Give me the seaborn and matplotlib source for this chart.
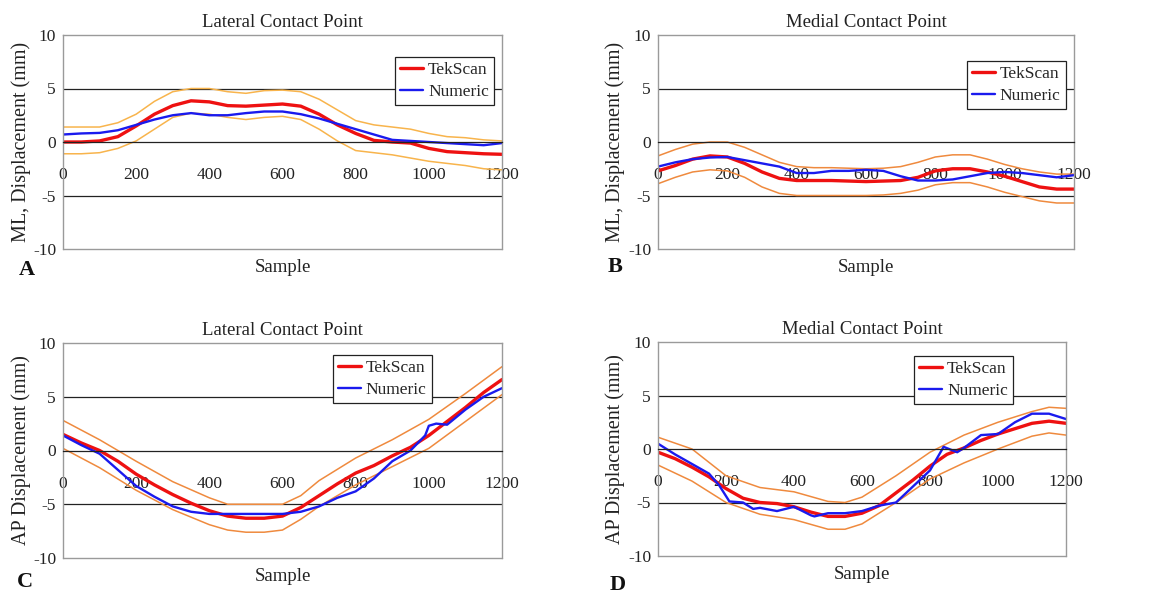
import numpy as np
import pandas as pd
import matplotlib
matplotlib.use("Agg")
import matplotlib.pyplot as plt
import seaborn as sns

# ---------------- data ----------------
S50 = [0, 50, 100, 150, 200, 250, 300, 350, 400, 450, 500, 550, 600,
       650, 700, 750, 800, 850, 900, 950, 1000, 1050, 1100, 1150, 1200]

# Panel A : ML lateral
A_tek = [0.0, 0.0, 0.1, 0.5, 1.5, 2.6, 3.4, 3.85, 3.75, 3.4, 3.35, 3.45, 3.55,
         3.35, 2.6, 1.6, 0.8, 0.15, 0.0, -0.1, -0.6, -0.9, -1.0, -1.1, -1.15]
A_num = [0.7, 0.8, 0.85, 1.1, 1.6, 2.1, 2.5, 2.7, 2.5, 2.5, 2.7, 2.85, 2.85,
         2.6, 2.2, 1.7, 1.2, 0.7, 0.2, 0.1, 0.0, -0.1, -0.2, -0.3, -0.1]
A_up = [1.4, 1.4, 1.4, 1.8, 2.6, 3.8, 4.7, 5.0, 5.0, 4.7, 4.55, 4.8, 4.85,
        4.7, 4.0, 3.0, 2.0, 1.6, 1.4, 1.2, 0.8, 0.5, 0.4, 0.2, 0.1]
A_lo = [-1.1, -1.1, -1.0, -0.6, 0.1, 1.2, 2.3, 2.7, 2.6, 2.3, 2.1, 2.3, 2.4,
        2.1, 1.2, 0.1, -0.8, -1.0, -1.2, -1.5, -1.8, -2.0, -2.2, -2.5, -2.6]

# Panel B : ML medial
B_tek = [-2.7, -2.2, -1.6, -1.3, -1.4, -2.0, -2.8, -3.4, -3.6, -3.6, -3.6, -3.65, -3.7,
         -3.65, -3.6, -3.3, -2.7, -2.5, -2.5, -2.8, -3.2, -3.7, -4.2, -4.4, -4.4]
B_num = [-2.3, -1.9, -1.6, -1.45, -1.4, -1.7, -2.0, -2.3, -2.9, -2.9, -2.7, -2.7, -2.6,
         -2.7, -3.2, -3.6, -3.6, -3.5, -3.2, -2.9, -2.8, -2.9, -3.1, -3.3, -3.1]
B_up = [-1.3, -0.7, -0.2, 0.0, 0.0, -0.5, -1.2, -1.9, -2.3, -2.4, -2.4, -2.45, -2.5,
        -2.45, -2.3, -1.9, -1.4, -1.2, -1.2, -1.6, -2.1, -2.5, -2.8, -3.0, -3.0]
B_lo = [-3.9, -3.3, -2.8, -2.6, -2.7, -3.3, -4.2, -4.8, -5.0, -5.0, -5.0, -5.0, -5.0,
        -4.95, -4.8, -4.5, -4.0, -3.8, -3.8, -4.2, -4.7, -5.1, -5.5, -5.7, -5.7]

# Panel C : AP lateral
C_tek = [1.5, 0.7, 0.0, -1.0, -2.2, -3.2, -4.1, -4.9, -5.6, -6.1, -6.3, -6.3, -6.1,
         -5.3, -4.2, -3.1, -2.1, -1.4, -0.5, 0.3, 1.4, 2.7, 4.0, 5.4, 6.6]
C_num_x = [0, 50, 100, 150, 200, 250, 300, 350, 400, 500, 600, 650, 700, 750, 800,
           850, 900, 950, 990, 1000, 1020, 1050, 1100, 1150, 1200]
C_num = [1.4, 0.5, -0.3, -1.8, -3.3, -4.3, -5.2, -5.7, -5.9, -5.9, -5.9, -5.7, -5.2,
         -4.4, -3.8, -2.6, -1.0, 0.0, 1.4, 2.3, 2.5, 2.4, 3.8, 5.0, 5.8]
C_band_x = [0, 100, 200, 300, 400, 450, 500, 550, 600, 650, 700, 800, 900, 1000, 1100, 1200]
C_up = [2.8, 1.0, -1.0, -2.9, -4.4, -5.0, -5.0, -5.0, -5.0, -4.2, -2.8, -0.7, 1.0, 2.9, 5.3, 7.8]
C_lo = [0.2, -1.6, -3.7, -5.5, -6.9, -7.4, -7.6, -7.6, -7.4, -6.4, -5.2, -3.2, -1.5, 0.2, 2.7, 5.2]

# Panel D : AP medial
D_tek = [-0.3, -0.9, -1.7, -2.6, -3.7, -4.6, -5.0, -5.1, -5.4, -5.9, -6.3, -6.3, -6.0,
         -5.3, -4.1, -2.9, -1.6, -0.5, 0.1, 0.8, 1.4, 1.9, 2.4, 2.6, 2.4]
D_num_x = [0, 50, 100, 150, 180, 210, 250, 280, 300, 350, 400, 450, 460, 500, 550,
           600, 650, 700, 750, 800, 840, 880, 900, 950, 1000, 1050, 1100, 1150, 1200]
D_num = [0.5, -0.5, -1.4, -2.3, -3.4, -4.9, -5.0, -5.6, -5.5, -5.8, -5.4, -6.2, -6.3,
         -6.0, -6.0, -5.8, -5.3, -5.0, -3.5, -2.0, 0.2, -0.3, 0.1, 1.3, 1.4, 2.5, 3.3, 3.3, 2.8]
D_band_x = [0, 100, 200, 300, 400, 500, 550, 600, 700, 800, 900, 1000, 1100, 1150, 1200]
D_up = [1.1, 0.0, -2.5, -3.6, -4.0, -4.9, -5.0, -4.5, -2.5, -0.3, 1.3, 2.5, 3.5, 3.9, 3.8]
D_lo = [-1.5, -3.0, -5.0, -6.1, -6.6, -7.5, -7.5, -7.0, -5.0, -2.8, -1.3, 0.0, 1.2, 1.5, 1.3]

TITLES = ["Lateral Contact Point", "Medial Contact Point",
          "Lateral Contact Point", "Medial Contact Point"]
YLABELS = ["ML, Displacement (mm)", "ML, Displacement (mm)",
           "AP Displacement (mm)", "AP Displacement (mm)"]
LETTERS = ["A", "B", "C", "D"]
XTICKS = [0, 200, 400, 600, 800, 1000, 1200]
YTICKS = [-10, -5, 0, 5, 10]

panels = [
    dict(tek=(S50, A_tek), num=(S50, A_num), up=(S50, A_up), lo=(S50, A_lo)),
    dict(tek=(S50, B_tek), num=(S50, B_num), up=(S50, B_up), lo=(S50, B_lo)),
    dict(tek=(S50, C_tek), num=(C_num_x, C_num), up=(C_band_x, C_up), lo=(C_band_x, C_lo)),
    dict(tek=(S50, D_tek), num=(D_num_x, D_num), up=(D_band_x, D_up), lo=(D_band_x, D_lo)),
]

# ---------------- style ----------------
sns.set_style("white")
plt.rcParams["font.family"] = ["Liberation Serif", "DejaVu Serif"]
plt.rcParams["axes.unicode_minus"] = False

W, H = 1149, 596
fig = plt.figure(figsize=(W / 100, H / 100), dpi=100)

# axes boxes in pixels: left, top, right, bottom
boxes = [(63, 35, 502, 249), (658, 35, 1074, 249),
         (63, 343, 502, 558), (658, 342, 1066, 556)]
legend_anchor = [(0.982, 0.897), (0.98, 0.878), (0.84, 0.944), (0.87, 0.935)]
letter_pos = [(27, 270), (615, 267), (25, 582), (618, 585)]
band_colors = ["#f8b44c", "#ef8a3e", "#ef8a3e", "#ef8a3e"]

for i, p in enumerate(panels):
    l, t, r, b = boxes[i]
    ax = fig.add_axes([l / W, 1 - b / H, (r - l) / W, (b - t) / H])
    bc = band_colors[i]
    sns.lineplot(x=p["up"][0], y=p["up"][1], ax=ax, color=bc, lw=1.1, legend=False)
    sns.lineplot(x=p["lo"][0], y=p["lo"][1], ax=ax, color=bc, lw=1.1, legend=False)
    sns.lineplot(x=p["tek"][0], y=p["tek"][1], ax=ax, color="#ee1111", lw=2.4, label="TekScan")
    sns.lineplot(x=p["num"][0], y=p["num"][1], ax=ax, color="#1a1aee", lw=1.7, label="Numeric")

    ax.set_xlim(0, 1200)
    ax.set_ylim(-10, 10)
    for yv in (5, -5):
        ax.axhline(yv, color="#222222", lw=0.9, zorder=0.5)
    ax.axhline(-10, color="#9a9a9a", lw=1.0, clip_on=False, zorder=0.5)

    for s in ("top", "left", "right"):
        ax.spines[s].set_color("#9a9a9a")
        ax.spines[s].set_linewidth(1.0)
    ax.spines["bottom"].set_position(("data", 0))
    ax.spines["bottom"].set_color("#222222")
    ax.spines["bottom"].set_linewidth(0.9)

    ax.set_xticks(XTICKS)
    ax.set_yticks(YTICKS)
    ax.tick_params(axis="x", direction="in", length=4, width=0.9, color="#222222",
                   pad=18, labelsize=12.5, labelcolor="#222222")
    ax.tick_params(axis="y", direction="out", length=3, width=0.8, color="#9a9a9a",
                   pad=2, labelsize=12.5, labelcolor="#222222")

    ax.set_title(TITLES[i], fontsize=13.5, pad=6, color="#222222")
    ax.set_xlabel("Sample", fontsize=13.5, color="#222222")
    ax.xaxis.set_label_coords(0.5, -0.045)
    ax.set_ylabel(YLABELS[i], fontsize=14.5, color="#222222")
    ax.yaxis.set_label_coords(-0.072 if i in (0, 2) else -0.08, 0.5)

    leg = ax.legend(loc="upper right", bbox_to_anchor=legend_anchor[i],
                    fontsize=12.5, frameon=True, fancybox=False, edgecolor="#222222",
                    handlelength=1.3, handletextpad=0.3, borderpad=0.3,
                    labelspacing=0.3, borderaxespad=0)
    leg.get_frame().set_linewidth(0.9)
    leg.get_frame().set_alpha(1)

    fig.text(letter_pos[i][0] / W, 1 - letter_pos[i][1] / H, LETTERS[i],
             fontsize=16, fontweight="bold", ha="center", va="center", color="#111111")

fig.savefig("out.png", dpi=100)
